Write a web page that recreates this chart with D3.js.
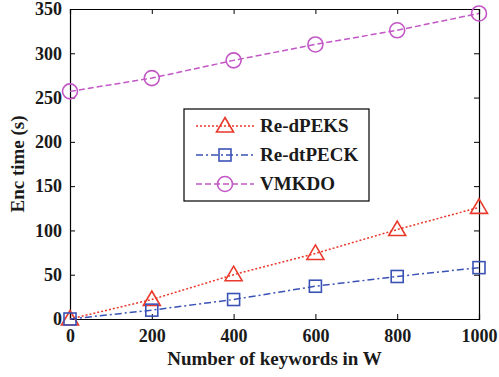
<!DOCTYPE html>
<html>
<head>
<meta charset="utf-8">
<script src="https://cdn.jsdelivr.net/npm/d3@7"></script>
<style>
  body { margin: 0; background: #fff; }
  svg text { font-family: "Liberation Serif", "Times New Roman", Times, serif !important; font-weight: bold; fill: #1a1a1a; }
</style>
</head>
<body>
<svg class="chartSVG" width="499" height="377"></svg>
<script>
const keywords = [0, 200, 400, 600, 800, 1000]
const reDPEKS = [0, 22, 50, 74, 101, 126]
const reDtPECK = [0, 10, 22, 37, 48, 58]
const vmkdo = [257, 272, 292, 310, 326, 345]
const xTicks = [0, 200, 400, 600, 800, 1000]
const yTicks = [0, 50, 100, 150, 200, 250, 300, 350]

const series = [
  { name: "Re-dPEKS", values: reDPEKS, color: "#e8392b", dash: "2,2", marker: "triangle" },
  { name: "Re-dtPECK", values: reDtPECK, color: "#3b52b5", dash: "7,3,2,3", marker: "square" },
  { name: "VMKDO", values: vmkdo, color: "#c257c6", dash: "6,3", marker: "circle" }
]

const svg = d3.select(".chartSVG")
const m = { left: 70, right: 479, top: 9, bottom: 319 }

const x = d3.scaleLinear().domain([0, 1000]).range([m.left, m.right])
const y = d3.scaleLinear().domain([0, 350]).range([m.bottom, m.top])
const fmt = d3.format("d")

// axes, ticks pointing inward
svg.append("g").attr("transform", `translate(0,${m.bottom})`)
  .call(d3.axisBottom(x).tickValues(xTicks).tickSize(-5).tickPadding(10).tickFormat(fmt))
svg.append("g").attr("transform", `translate(0,${m.top})`)
  .call(d3.axisTop(x).tickValues(xTicks).tickSize(-5).tickFormat(""))
svg.append("g").attr("transform", `translate(${m.left},0)`)
  .call(d3.axisLeft(y).tickValues(yTicks).tickSize(-5).tickPadding(8).tickFormat(fmt))
svg.append("g").attr("transform", `translate(${m.right},0)`)
  .call(d3.axisRight(y).tickValues(yTicks).tickSize(-5).tickFormat(""))

svg.selectAll("g").attr("font-family", null).attr("font-size", null)
svg.selectAll(".domain").attr("stroke", "#000").attr("stroke-width", 1.2)
svg.selectAll(".tick line").attr("stroke", "#000")
svg.selectAll(".tick text").style("font-size", "18px").attr("fill", "#1a1a1a")

function drawMarker(g, type, color) {
  if (type == "triangle") {
    g.append("path").attr("d", "M0,-8.5L8.5,6L-8.5,6Z")
      .attr("fill", "none").attr("stroke", color).attr("stroke-width", 1.6)
  } else if (type == "square") {
    g.append("rect").attr("x", -6).attr("y", -6).attr("width", 12).attr("height", 12)
      .attr("fill", "none").attr("stroke", color).attr("stroke-width", 1.6)
  } else {
    g.append("circle").attr("r", 7.5)
      .attr("fill", "none").attr("stroke", color).attr("stroke-width", 1.6)
  }
}

const line = d3.line().x((d, i) => x(keywords[i])).y(d => y(d))

series.forEach(s => {
  svg.append("path").datum(s.values)
    .attr("d", line)
    .attr("fill", "none")
    .attr("stroke", s.color)
    .attr("stroke-width", 1.5)
    .attr("stroke-dasharray", s.dash)
  s.values.forEach((v, i) => {
    const g = svg.append("g").attr("transform", `translate(${x(keywords[i])},${y(v)})`)
    drawMarker(g, s.marker, s.color)
  })
})

// legend
const legend = svg.append("g").attr("transform", "translate(184,109)")
legend.append("rect").attr("width", 185).attr("height", 92)
  .attr("fill", "#fff").attr("stroke", "#000").attr("stroke-width", 1.2)
series.forEach((s, i) => {
  const ly = 17 + i * 29
  legend.append("line").attr("x1", 12).attr("x2", 70).attr("y1", ly).attr("y2", ly)
    .attr("stroke", s.color).attr("stroke-width", 1.5).attr("stroke-dasharray", s.dash)
  drawMarker(legend.append("g").attr("transform", `translate(41,${ly})`), s.marker, s.color)
  legend.append("text").attr("x", 76).attr("y", ly + 6).style("font-size", "19px").text(s.name)
})

// axis titles
svg.append("text").attr("x", (m.left + m.right) / 2).attr("y", 365)
  .attr("text-anchor", "middle").style("font-size", "19px").text("Number of keywords in W")
svg.append("text").attr("transform", `translate(24,${(m.top + m.bottom) / 2}) rotate(-90)`)
  .attr("text-anchor", "middle").style("font-size", "19px").text("Enc time (s)")
</script>
</body>
</html>
